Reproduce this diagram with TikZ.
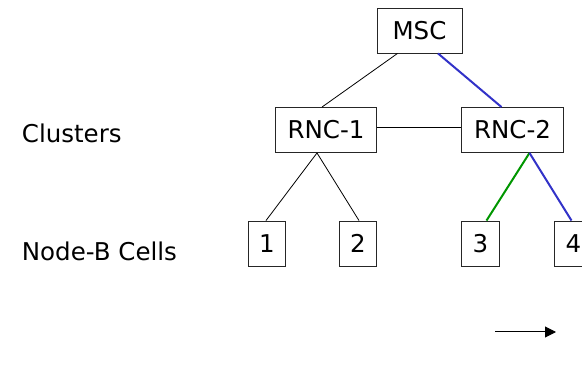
\documentclass[tikz,border=0pt]{standalone}
\usepackage{fontspec}
\setmainfont{DejaVu Sans}
\usetikzlibrary{arrows.meta}
\definecolor{linkblue}{RGB}{50,50,200}
\definecolor{linkgreen}{RGB}{0,150,0}

\begin{document}
\begin{tikzpicture}[x=1pt,y=-1pt,-,line width=0.8pt,font=\fontsize{24.5}{29}\selectfont,
    box node/.style={draw=black!85,line width=0.9pt,rectangle,inner sep=0pt,minimum height=45pt},
    cell node/.style={box node,minimum width=37.5pt},
    label node/.style={anchor=west,inner sep=0pt},
    blue link/.style={draw=linkblue,line width=2pt},
    green link/.style={draw=linkgreen,line width=2pt}]
                \useasboundingbox (0,0) rectangle (582,385);
                \node[box node,minimum width=85pt] (msc) at (419.5,30.5) {MSC};
                \node[box node,minimum width=101.5pt] (rnc1) at (326,130) {RNC-1};
                \node[box node,minimum width=101.5pt] (rnc2) at (512.5,130) {RNC-2};
                \node[cell node] (c1) at (267,243.5) {1};
                \node[cell node] (c2) at (358,243.5) {2};
                \node[cell node] (c3) at (480.5,243.5) {3};
                \node[cell node] (c4) at (573.5,243.5) {4};

                \node[label node] (clusters) at (21.5,133) {Clusters};
                \node[label node] (cells) at (21.5,251.5) {Node-B Cells};

                \coordinate (arrow start) at (495,332);
                \coordinate (arrow end) at (556,332);

                \draw ([xshift=-22pt]msc.south) -- ([xshift=-4pt]rnc1.north);
                \draw[blue link] ([xshift=18.5pt]msc.south) -- ([xshift=-11pt]rnc2.north);
                \draw (rnc1.east |- 0,127) -- (rnc2.west |- 0,127);
                \draw ([xshift=-9pt]rnc1.south) -- ([xshift=-1pt]c1.north);
                \draw ([xshift=-9pt]rnc1.south) -- ([xshift=1pt]c2.north);
                \draw[green link] ([xshift=17pt]rnc2.south) -- ([xshift=6pt]c3.north);
                \draw[blue link] ([xshift=17pt]rnc2.south) -- ([xshift=-2pt]c4.north);

                \draw[-{Triangle[length=11pt,width=11pt]},line width=1pt] (arrow start) -- (arrow end);
            \end{tikzpicture}
\end{document}
